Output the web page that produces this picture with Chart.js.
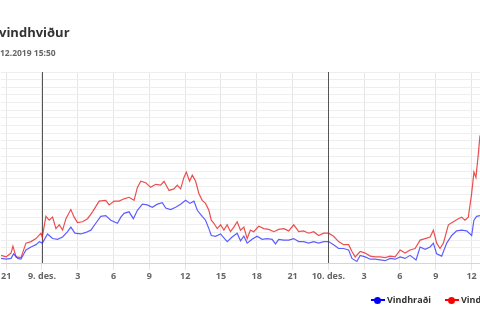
<!DOCTYPE html>
<html>
<head>
<meta charset="utf-8">
<script src="https://cdn.jsdelivr.net/npm/chart.js@4/dist/chart.umd.min.js"></script>
<style>
  html, body { margin: 0; padding: 0; background: #fff; overflow: hidden; width: 480px; height: 320px; }
  #wrap { position: relative; width: 480px; height: 320px; overflow: hidden; font-family: "Open Sans", sans-serif; }
  #myChart { position: absolute; left: 0; top: 0; }
  .title { position: absolute; left: -1px; top: 23px; font-size: 13px; font-weight: bold; color: #333; white-space: nowrap; }
  .sub { position: absolute; left: 0; top: 47px; font-size: 8.5px; font-weight: bold; color: #666; white-space: nowrap; }
  .leg { position: absolute; top: 294px; font-size: 9px; font-weight: bold; color: #333; white-space: nowrap; line-height: 12px; }
  .mark { display: inline-block; position: relative; width: 14px; height: 12px; vertical-align: top; margin-right: 2px; }
  .mark i { position: absolute; left: 0; top: 5px; width: 14px; height: 2px; }
  .mark b { position: absolute; left: 3px; top: 2.5px; width: 7px; height: 7px; border-radius: 50%; }
</style>
</head>
<body>
<div id="wrap">
  <canvas id="myChart" width="480" height="320"></canvas>
  <div class="title">vindhviður</div>
  <div class="sub">12.2019 15:50</div>
  <div class="leg" style="left:371px"><span class="mark"><i style="background:#0000ff"></i><b style="background:#0000ff"></b></span>Vindhraði</div>
  <div class="leg" style="left:445px"><span class="mark"><i style="background:#ff0000"></i><b style="background:#ff0000"></b></span>Vindhviður</div>
</div>
<script>
// hours from 9. des. 00:00
var gustHours = [-3.43,-3.01,-2.59,-2.43,-2.17,-1.76,-1.34,-0.92,-0.50,-0.08,0.03,0.33,0.61,0.89,1.17,1.45,1.73,2.01,2.42,2.70,2.98,3.40,3.82,4.24,4.79,5.35,5.63,6.05,6.47,6.88,7.30,7.72,8.00,8.28,8.70,9.11,9.53,9.95,10.23,10.65,11.06,11.34,11.62,11.90,12.10,12.37,12.60,12.88,13.15,13.43,13.71,13.99,14.19,14.41,14.69,14.97,15.25,15.52,15.80,16.08,16.36,16.64,16.92,17.20,17.47,17.75,18.17,18.59,19.01,19.43,19.84,20.26,20.68,21.10,21.52,21.93,22.35,22.77,23.19,23.61,24.02,24.44,24.86,25.28,25.70,25.98,26.25,26.67,27.09,27.51,27.93,28.34,28.76,29.18,29.60,30.02,30.43,30.85,31.27,31.69,32.11,32.53,32.80,33.08,33.36,33.64,34.06,34.48,34.89,35.17,35.45,35.73,36.01,36.20,36.37,36.57,36.71];
var gustValues = [1.0,0.8,1.3,2.2,0.8,0.7,2.6,2.8,3.2,3.9,3.4,6.1,5.6,6.0,4.5,5.0,4.3,5.8,7.0,6.0,5.3,5.4,5.8,6.7,8.1,8.2,7.6,8.1,8.1,8.4,8.6,8.2,9.9,10.7,10.5,9.9,10.3,10.2,10.7,9.5,9.7,10.2,9.7,11.2,11.9,10.7,11.5,10.7,9.1,8.2,7.8,6.9,5.6,5.2,4.5,5.0,4.3,5.0,4.1,4.7,5.4,4.3,4.7,3.2,4.3,4.1,4.8,4.5,4.4,4.1,4.4,4.5,4.2,5.0,4.1,4.2,3.9,4.1,3.6,3.9,3.9,3.5,2.8,2.4,2.4,1.5,0.8,1.5,1.3,0.9,0.8,0.8,0.7,0.9,0.8,1.7,1.3,1.7,1.9,3.0,3.2,3.4,4.3,2.6,1.9,2.6,5.0,5.4,5.8,6.0,5.6,6.0,9.1,11.9,11.2,14.3,16.7];
var speedHours = [-3.43,-3.01,-2.59,-2.37,-2.03,-1.76,-1.34,-0.92,-0.50,-0.22,0.03,0.47,0.89,1.31,1.73,2.15,2.42,2.76,3.26,3.68,4.10,4.51,4.93,5.35,5.77,6.33,6.61,6.88,7.30,7.66,8.00,8.42,8.83,9.25,9.67,10.09,10.37,10.79,11.20,11.62,12.04,12.40,12.74,13.02,13.43,13.71,13.99,14.19,14.55,14.97,15.25,15.52,15.94,16.36,16.64,16.92,17.20,17.61,18.03,18.45,18.87,19.29,19.57,19.84,20.26,20.68,21.10,21.52,21.93,22.35,22.77,23.19,23.61,24.02,24.44,24.86,25.28,25.70,25.98,26.39,26.67,27.09,27.51,27.93,28.34,28.76,29.18,29.60,30.02,30.43,30.85,31.35,31.69,32.11,32.53,32.80,33.08,33.50,33.92,34.34,34.75,35.17,35.59,36.01,36.20,36.43,36.71];
var speedValues = [0.6,0.5,0.6,1.2,0.6,0.5,1.7,2.1,2.4,2.8,2.6,3.8,3.2,3.1,3.4,4.1,4.7,3.9,3.8,4.0,4.3,5.2,6.1,6.2,5.6,5.2,6.0,6.5,6.7,5.8,6.9,7.7,7.6,7.3,7.7,7.9,7.2,7.0,7.3,7.7,8.2,7.8,8.1,6.9,6.1,5.6,4.5,3.6,3.5,3.8,3.3,2.8,3.4,3.9,2.9,3.5,2.6,3.1,3.5,3.1,3.2,3.1,2.5,3.1,3.0,3.0,3.2,2.8,2.8,2.6,2.8,2.6,2.8,2.8,2.4,1.9,1.9,1.7,0.6,0.2,1.0,0.8,0.5,0.5,0.4,0.3,0.6,0.5,0.8,0.6,1.0,0.4,2.1,1.8,2.1,2.6,1.2,0.9,2.6,3.6,4.2,4.3,4.2,3.6,5.6,6.1,6.2];

var dayStarts = [0, 24];
var dayLabels = ['9. des.', '10. des.'];

function pts(xs, ys) {
    return xs.map(function(x, i) { return { x: x, y: ys[i] }; });
}

// dark lines at midnight, drawn over the grid
var dayLines = {
    id: 'dayLines',
    beforeDatasetsDraw: function(chart) {
        var c = chart.ctx, a = chart.chartArea, xs = chart.scales.x;
        c.save();
        c.strokeStyle = '#555555';
        c.lineWidth = 1;
        dayStarts.forEach(function(d) {
            var px = Math.round(xs.getPixelForValue(d)) + 0.5;
            c.beginPath();
            c.moveTo(px, a.top);
            c.lineTo(px, a.bottom);
            c.stroke();
        });
        c.restore();
    }
};

var ctx = document.getElementById('myChart');
var myChart = new Chart(ctx, {
    type: 'line',
    data: {
        datasets: [{
            label: 'Vindhraði',
            data: pts(speedHours, speedValues),
            borderColor: 'rgba(40,40,255,0.75)',
            borderWidth: 1.2,
            pointRadius: 0,
            tension: 0
        }, {
            label: 'Vindhviður',
            data: pts(gustHours, gustValues),
            borderColor: 'rgba(230,20,20,0.75)',
            borderWidth: 1.2,
            pointRadius: 0,
            tension: 0
        }]
    },
    options: {
        responsive: false,
        animation: false,
        layout: { padding: { top: 72, left: 0, right: 0, bottom: 0 } },
        plugins: { legend: { display: false }, tooltip: { enabled: false } },
        scales: {
            x: {
                type: 'linear',
                min: -3.43,
                max: 36.71,
                afterFit: function(s) { s.height = 57; },
                border: { color: '#ccd6eb', width: 1 },
                grid: {
                    color: '#e6e6e6',
                    tickColor: '#e6e6e6',
                    tickLength: 7
                },
                ticks: {
                    stepSize: 3,
                    includeBounds: false,
                    maxRotation: 0,
                    autoSkip: false,
                    padding: 1,
                    color: '#666',
                    font: { family: 'Open Sans', size: 9, weight: 'bold' },
                    callback: function(v) {
                        var i = dayStarts.indexOf(v);
                        return i >= 0 ? dayLabels[i] : String(((v % 24) + 24) % 24);
                    }
                }
            },
            y: {
                min: 0,
                max: 25,
                afterFit: function(s) { s.width = 0; },
                border: { display: false },
                grid: { color: '#eeeeee', drawTicks: false },
                ticks: { display: false, stepSize: 1 }
            }
        }
    },
    plugins: [dayLines]
});
</script>
</body>
</html>
